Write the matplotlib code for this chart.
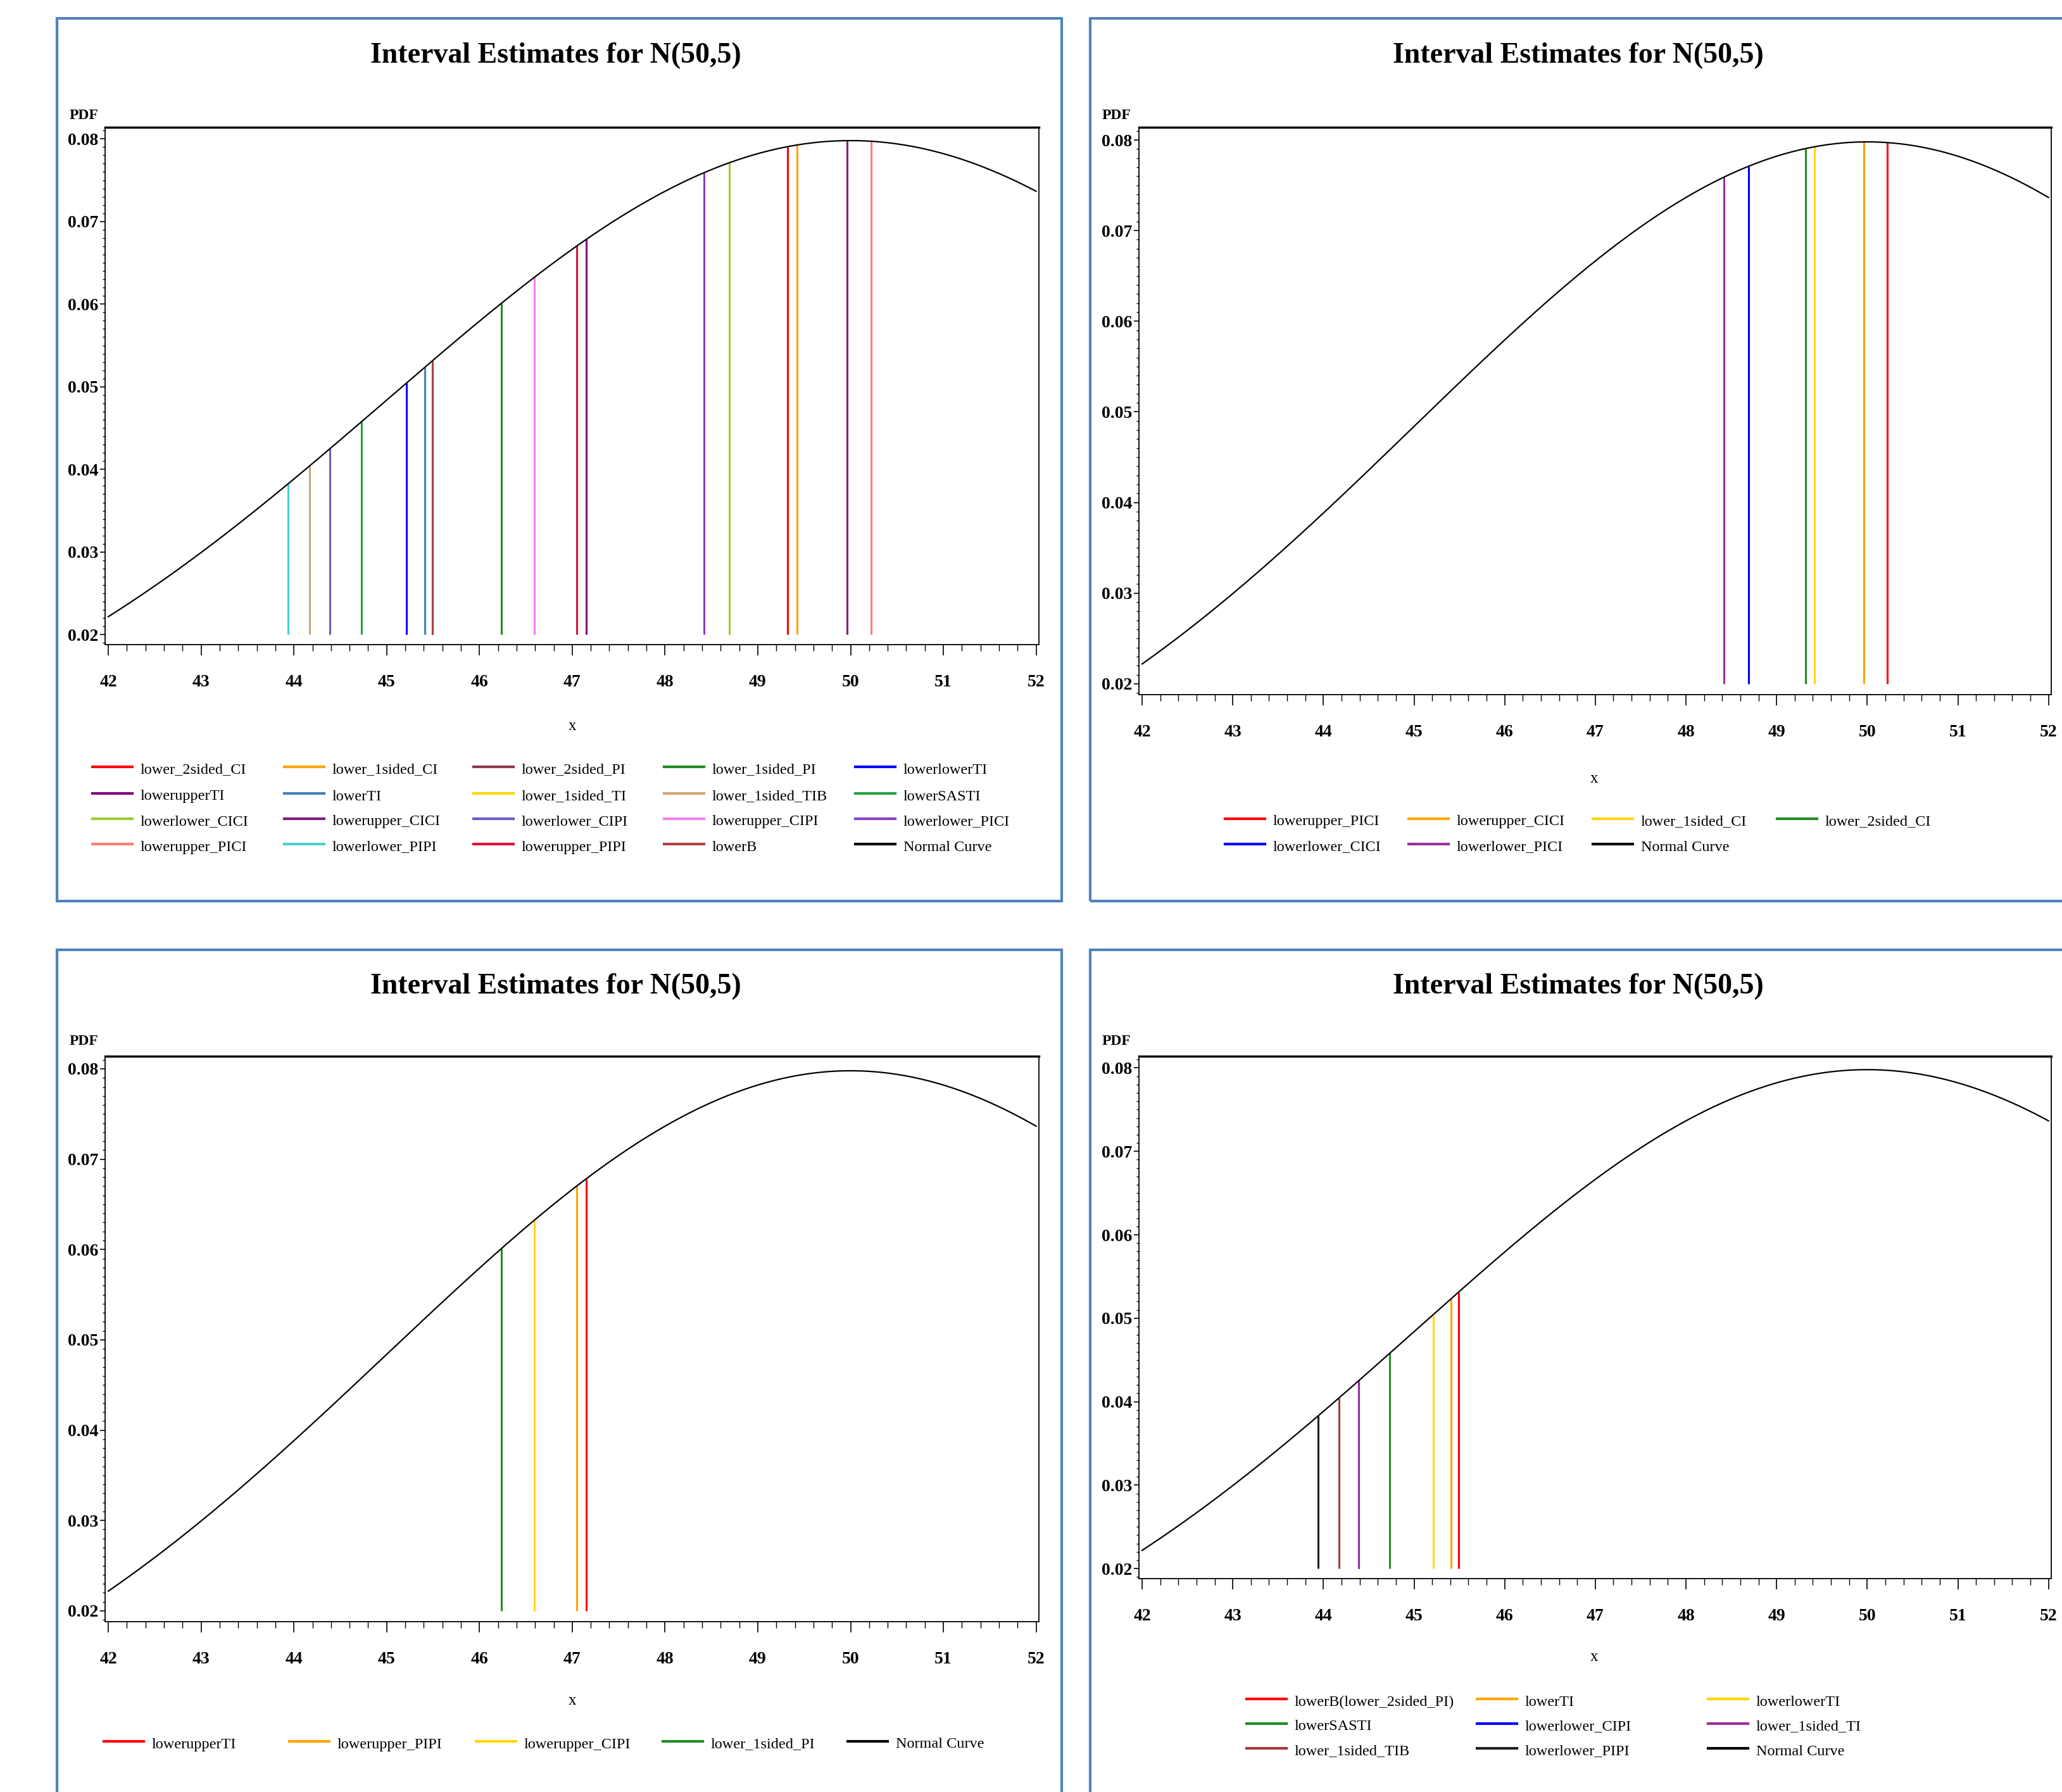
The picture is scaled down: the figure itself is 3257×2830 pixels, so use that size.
import numpy as np
import matplotlib
matplotlib.use("Agg")
import matplotlib.pyplot as plt
from matplotlib.lines import Line2D
from matplotlib.patches import Rectangle
from matplotlib.ticker import MultipleLocator

W, H = 3257, 2830
plt.rcParams["font.family"] = ["Liberation Serif", "DejaVu Serif"]

# N(50,5) shown in every panel
MU, SIGMA = 50, 5
X_MIN, X_MAX = 42, 52

# lower bound estimates
est_names = [
    "lower_2sided_CI", "lower_1sided_CI", "lower_2sided_PI", "lower_1sided_PI",
    "lowerlowerTI", "lowerupperTI", "lowerTI", "lower_1sided_TI",
    "lower_1sided_TIB", "lowerSASTI", "lowerlower_CICI", "lowerupper_CICI",
    "lowerlower_CIPI", "lowerupper_CIPI", "lowerlower_PICI", "lowerupper_PICI",
    "lowerlower_PIPI", "lowerupper_PIPI", "lowerB",
]
est_values = [
    49.32, 49.42, 45.49, 46.24,
    45.21, 47.15, 45.41, 44.39,
    44.17, 44.73, 48.69, 49.96,
    44.39, 46.59, 48.42, 50.22,
    43.94, 47.05, 45.49,
]
est = dict(zip(est_names, est_values))

# panel 1: everything
p1_keys = est_names
p1_labels = est_names
p1_colors = [
    "#FF0000", "#FFA500", "#8B3A47", "#228B22",
    "#0000FF", "#800080", "#4682B4", "#FFD700",
    "#D2A679", "#23A040", "#9ACD32", "#7B1F7B",
    "#6A5ACD", "#EE82EE", "#8A3FC8", "#FA8072",
    "#48D1CC", "#DC143C", "#B04040",
]

# panel 2: the upper group
p2_keys = ["lowerupper_PICI", "lowerupper_CICI", "lower_1sided_CI", "lower_2sided_CI",
           "lowerlower_CICI", "lowerlower_PICI"]
p2_labels = p2_keys
p2_colors = ["#FF0000", "#FFA500", "#FFD700", "#228B22", "#0000FF", "#9A2E9A"]

# panel 3: the middle group
p3_keys = ["lowerupperTI", "lowerupper_PIPI", "lowerupper_CIPI", "lower_1sided_PI"]
p3_labels = p3_keys
p3_colors = ["#FF0000", "#FFA500", "#FFD700", "#228B22"]

# panel 4: the lower group
p4_keys = ["lowerB", "lowerTI", "lowerlowerTI", "lowerSASTI", "lowerlower_CIPI",
           "lower_1sided_TI", "lower_1sided_TIB", "lowerlower_PIPI"]
p4_labels = ["lowerB(lower_2sided_PI)", "lowerTI", "lowerlowerTI", "lowerSASTI",
             "lowerlower_CIPI", "lower_1sided_TI", "lower_1sided_TIB", "lowerlower_PIPI"]
p4_colors = ["#FF0000", "#FFA500", "#FFD700", "#228B22", "#0000FF", "#9A2E9A",
             "#A83838", "#202020"]


def pdf(x):
    return np.exp(-(x - MU) ** 2 / (2 * SIGMA ** 2)) / (SIGMA * np.sqrt(2 * np.pi))


def fx(px):
    return px / W


def fy(py):
    return 1 - py / H


fig = plt.figure(figsize=(W / 100, H / 100), dpi=100)
fig.patch.set_facecolor("white")


def draw_panel(frame, axbox, title_x, title_y, pdf_xy, xlab_xy,
               keys, labels, colors, leg_x, leg_y, ncol):
    # blue frame around the panel
    x0, y0, x1, y1 = frame
    fig.add_artist(Rectangle((fx(x0), fy(y1)), (x1 - x0) / W, (y1 - y0) / H,
                             transform=fig.transFigure, fill=False,
                             edgecolor="#4F81BD", lw=3, clip_on=False))
    fig.text(fx(title_x), fy(title_y), "Interval Estimates for N(50,5)",
             ha="center", va="center", fontsize=33, fontweight="bold")

    a0, b0, a1, b1 = axbox
    ax = fig.add_axes([fx(a0), fy(b1), (a1 - a0) / W, (b1 - b0) / H])
    xs = np.linspace(X_MIN, X_MAX, 500)
    for k, c in zip(keys, colors):
        v = est[k]
        ax.vlines(v, 0.02, pdf(v), color=c, lw=2.2)
    ax.plot(xs, pdf(xs), color="black", lw=1.6)

    ax.set_xlim(41.965, 52.03)
    ax.set_ylim(0.0188, 0.0814)
    xt = list(range(42, 53))
    ax.set_xticks(xt, [str(t) for t in xt], fontsize=20, fontweight="bold")
    yt = [0.02, 0.03, 0.04, 0.05, 0.06, 0.07, 0.08]
    ax.set_yticks(yt, ["%.2f" % t for t in yt], fontsize=20, fontweight="bold")
    ax.xaxis.set_minor_locator(MultipleLocator(0.2))
    ax.yaxis.set_minor_locator(MultipleLocator(0.001))
    ax.tick_params(axis="x", which="major", direction="out", length=12, width=1.2, pad=22)
    ax.tick_params(axis="x", which="minor", direction="out", length=7, width=1.0)
    ax.tick_params(axis="y", which="major", direction="out", length=6, width=1.2, pad=2)
    ax.tick_params(axis="y", which="minor", direction="out", length=3, width=1.0)
    for s in ax.spines.values():
        s.set_linewidth(1.3)
    ax.spines["top"].set_linewidth(2.5)

    fig.text(fx(pdf_xy[0]), fy(pdf_xy[1]), "PDF", ha="left", va="center",
             fontsize=17, fontweight="bold")
    fig.text(fx(xlab_xy[0]), fy(xlab_xy[1]), "x", ha="center", va="center", fontsize=18)

    # legend laid out row by row like the original
    entries = list(zip(labels, colors)) + [("Normal Curve", "black")]
    for i, (lab, c) in enumerate(entries):
        r, col = divmod(i, ncol)
        lx, ly = leg_x[col], leg_y[r]
        fig.add_artist(Line2D([fx(lx), fx(lx + 63)], [fy(ly), fy(ly)],
                              transform=fig.transFigure, color=c, lw=3))
        fig.text(fx(lx + 76), fy(ly + 5), lab, ha="left", va="center", fontsize=17.5)
    return ax


draw_panel((90, 29, 1677, 1423), (166, 201, 1641, 1018), 878, 88, (110, 183), (904, 1147),
           p1_keys, p1_labels, p1_colors,
           [146, 449, 748, 1049, 1351], [1211, 1253, 1293, 1333], 5)
draw_panel((1722, 29, 3320, 1423), (1799, 201, 3240, 1097), 2493, 88, (1741, 183), (2518, 1230),
           p2_keys, p2_labels, p2_colors,
           [1935, 2225, 2516, 2807], [1293, 1333], 4)
draw_panel((90, 1500, 1677, 2900), (166, 1668, 1641, 2561), 878, 1558, (110, 1645), (904, 2686),
           p3_keys, p3_labels, p3_colors,
           [164, 457, 752, 1047, 1339], [2750], 5)
draw_panel((1722, 1500, 3320, 2900), (1799, 1668, 3240, 2493), 2493, 1558, (1741, 1645), (2518, 2617),
           p4_keys, p4_labels, p4_colors,
           [1969, 2333, 2698], [2683, 2722, 2761], 3)

fig.savefig("out.png", dpi=100)
